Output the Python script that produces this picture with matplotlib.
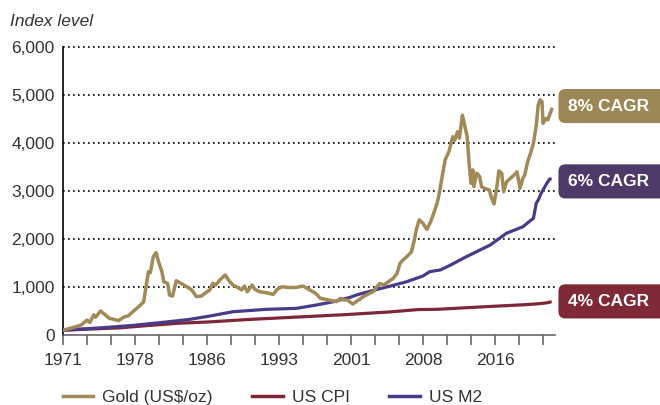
import matplotlib
matplotlib.use("Agg")
import matplotlib.pyplot as plt
from matplotlib.lines import Line2D
from matplotlib.transforms import blended_transform_factory

plt.rcParams['font.family'] = ['Liberation Sans', 'DejaVu Sans']

# gold index (1971 = 100)
gold_year = [1971.0, 1972.4, 1972.9, 1973.5, 1973.8, 1974.2, 1974.4, 1974.9, 1975.4, 1975.8,
             1976.8, 1977.3, 1977.8, 1978.3, 1978.8, 1979.4, 1979.6, 1979.9, 1980.1, 1980.4,
             1980.7, 1980.9, 1981.3, 1981.5, 1981.9, 1982.1, 1982.4, 1982.8, 1983.3, 1983.9,
             1984.4, 1984.9, 1985.4, 1985.8, 1986.3, 1986.6, 1986.9, 1987.4, 1987.9, 1988.3,
             1988.7, 1989.2, 1989.6, 1989.9, 1990.2, 1990.7, 1991.0, 1991.5, 1992.2, 1992.9,
             1993.3, 1993.8, 1994.5, 1995.3, 1996.0, 1996.6, 1997.3, 1997.8, 1998.3, 1999.0,
             1999.5, 1999.9, 2000.2, 2000.6, 2001.2, 2001.8, 2002.3, 2002.8, 2003.3, 2003.7,
             2004.0, 2004.4, 2004.9, 2005.4, 2005.8, 2006.1, 2006.4, 2006.8, 2007.1, 2007.3,
             2007.6, 2007.8, 2008.1, 2008.5, 2008.9, 2009.3, 2009.8, 2010.1, 2010.4, 2010.8,
             2011.2, 2011.6, 2011.8, 2012.1, 2012.3, 2012.6, 2012.8, 2013.1, 2013.3, 2013.5,
             2013.7, 2013.8, 2014.1, 2014.4, 2014.6, 2014.9, 2015.4, 2015.6, 2015.9, 2016.2,
             2016.4, 2016.7, 2016.9, 2017.2, 2017.6, 2018.0, 2018.3, 2018.6, 2018.9, 2019.1,
             2019.4, 2019.7, 2020.0, 2020.3, 2020.5, 2020.7, 2020.9, 2021.0, 2021.3, 2021.5,
             2021.8, 2021.9]
gold_val = [100, 175, 210, 310, 260, 420, 370, 500, 420, 350,
            300, 370, 400, 490, 575, 690, 940, 1320, 1300, 1630,
            1715, 1560, 1320, 1110, 1075, 830, 810, 1130, 1075, 1005,
            940, 800, 810, 870, 940, 1075, 1040, 1160, 1250, 1130,
            1040, 990, 940, 1020, 900, 1040, 950, 900, 880, 845,
            950, 1005, 990, 990, 1020, 950, 870, 765, 745, 715,
            695, 765, 730, 730, 645, 730, 800, 855, 900, 1005,
            1075, 1040, 1110, 1180, 1285, 1490, 1560, 1630, 1690, 1735,
            1980, 2190, 2400, 2325, 2200, 2360, 2640, 2850, 3190, 3645,
            3820, 4130, 4060, 4235, 4100, 4580, 4410, 4130, 3575, 3160,
            3440, 3090, 3370, 3300, 3090, 3055, 3020, 2880, 2730, 3090,
            3420, 3370, 2985, 3190, 3265, 3335, 3400, 3055, 3265, 3335,
            3610, 3785, 3990, 4375, 4790, 4900, 4860, 4410, 4510, 4480,
            4650, 4700]

cpi_year = [1971, 1974, 1977, 1980, 1983, 1986, 1990, 1995, 2000, 2005, 2008, 2010,
            2015, 2019, 2020.5, 2021.4, 2021.9]
cpi_val = [100, 125, 150, 200, 245, 270, 320, 370, 420, 480, 530, 535,
           590, 630, 650, 670, 695]

m2_year = [1971, 1975, 1978, 1981.1, 1984, 1986.3, 1988.7, 1992.2, 1995.3, 1997.4, 1999.2,
           2000.9, 2001.6, 2003.7, 2005.1, 2006.8, 2008.5, 2009.2, 2010.3, 2011.3, 2013.0,
           2015.5, 2017.2, 2018.9, 2019.8, 2020.0, 2020.3, 2020.5, 2020.8, 2021.4, 2021.7,
           2021.9]
m2_val = [100, 150, 195, 257, 320, 395, 485, 535, 555, 625, 695,
          785, 835, 950, 1020, 1110, 1230, 1320, 1355, 1450, 1630,
          1875, 2120, 2255, 2400, 2430, 2745, 2810, 2950, 3160, 3250,
          3250]

tick_pos = [1971 + 2.5 * k for k in range(21)]
label_pos = [1971, 1978.5, 1986, 1993.5, 2001, 2008.5, 2016]
label_txt = ['1971', '1978', '1986', '1993', '2001', '2008', '2016']

cagr_labels = ['8% CAGR', '6% CAGR', '4% CAGR']
cagr_y = [4770, 3200, 700]

gold_c = '#A08A58'
cpi_c = '#7E2736'
m2_c = '#4B3A8A'
box_c = ['#9C8756', '#4D3A68', '#7E2935']
txt_c = '#333333'

fig = plt.figure(figsize=(6.6, 4.05), dpi=100)
ax = fig.add_axes([63 / 660, 1 - 335 / 405, (555 - 63) / 660, 288 / 405])

ax.plot(cpi_year, cpi_val, color=cpi_c, lw=2.3, zorder=3, solid_capstyle='butt')
ax.plot(m2_year, m2_val, color=m2_c, lw=2.3, zorder=4, solid_capstyle='butt')
ax.plot(gold_year, gold_val, color=gold_c, lw=2.5, zorder=5, solid_joinstyle='round')

ax.set_xlim(1971, 1971 + (555 - 63) / 9.6)
ax.set_ylim(0, 6000)
ax.set_yticks(range(0, 6001, 1000))
ax.set_yticklabels([f'{v:,}' for v in range(0, 6001, 1000)])
for v in range(1000, 6001, 1000):
    ax.axhline(v, color='black', lw=1.2, ls=(0, (1, 2)), zorder=1, xmax=1.005, clip_on=False)

ax.set_xticks(tick_pos, minor=True)
ax.set_xticks(label_pos)
ax.set_xticklabels(label_txt)
ax.tick_params(axis='x', which='both', direction='out', length=7, width=1.2,
               color='#666666', pad=6)
ax.tick_params(axis='y', length=0, pad=6)
ax.tick_params(labelsize=12.5, labelcolor=txt_c)

for s in ['top', 'right']:
    ax.spines[s].set_visible(False)
ax.spines['left'].set_color('black')
ax.spines['left'].set_linewidth(1.2)
ax.spines['bottom'].set_color('#666666')
ax.spines['bottom'].set_linewidth(1.2)

fig.text(10 / 660, 1 - 22 / 405, 'Index level', fontsize=12.5, style='italic',
         color=txt_c, va='center', ha='left')

tr = blended_transform_factory(fig.transFigure, ax.transData)
for lab, y, c in zip(cagr_labels, cagr_y, box_c):
    ax.text(568 / 660, y, lab + '  ', transform=tr, ha='left', va='center', fontsize=12.5,
            fontweight='bold', color='white', clip_on=False,
            bbox=dict(boxstyle='round,pad=0.55,rounding_size=0.4', fc=c, ec='none'))

handles = [Line2D([], [], color=gold_c, lw=2.5),
           Line2D([], [], color=cpi_c, lw=2.5),
           Line2D([], [], color=m2_c, lw=2.5)]
fig.legend(handles, ['Gold (US$/oz)', 'US CPI', 'US M2'], ncol=3, frameon=False,
           loc='center left', bbox_to_anchor=(63 / 660, 1 - 397 / 405),
           borderpad=0, borderaxespad=0,
           fontsize=12.5, handlelength=1.75, handletextpad=0.5, columnspacing=2.3,
           labelcolor=txt_c)

fig.savefig('out.png', dpi=100)
